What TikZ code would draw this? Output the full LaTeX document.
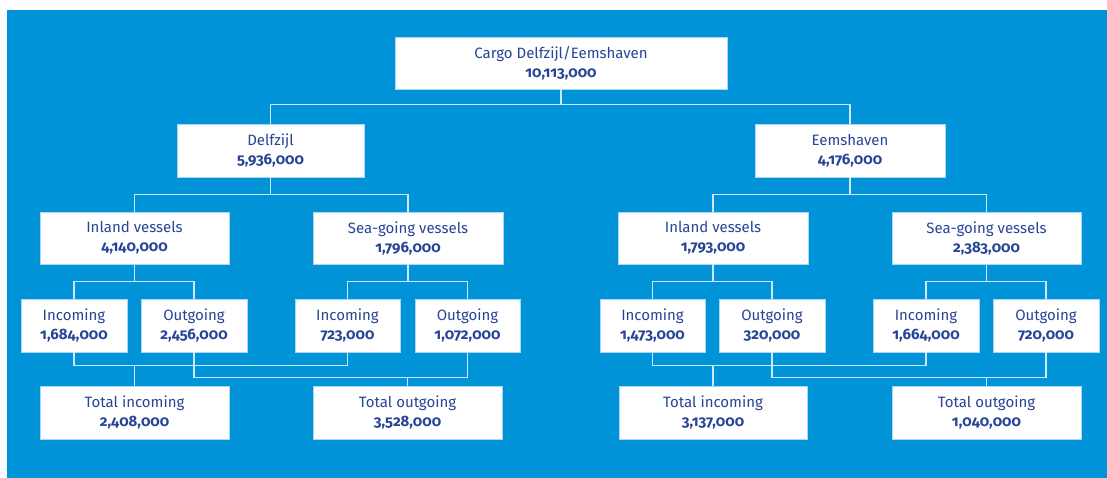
\documentclass[tikz,border=0pt]{standalone}
\usepackage{fontspec}
\setmainfont{Fira Sans}[Numbers=OldStyle]
\usetikzlibrary{calc}
\definecolor{bg}{RGB}{0,147,216}
\definecolor{txt}{RGB}{40,68,150}
\definecolor{conn}{RGB}{205,232,248}
\definecolor{edge}{RGB}{170,215,242}
\tikzset{
  box/.style={draw=edge, line width=0.8pt, fill=white, text=txt, align=center, inner sep=0pt,
    font=\fontsize{15}{19}\selectfont},
  bigbox/.style={box, minimum width=189pt, minimum height=52pt},
  smallbox/.style={box, minimum width=106pt, minimum height=53pt},
  link/.style={draw=conn, line width=1.2pt}
}
\begin{document}
\begin{tikzpicture}[x=1pt,y=-1pt]
\useasboundingbox (0,0) rectangle (1107,478);
\fill[white] (0,0) rectangle (1107,478);
\fill[bg] (7,10) rectangle (1107,478);
% level 0
\node[box, minimum width=332pt, minimum height=52pt] (top) at (561,63) {Cargo Delfzijl/Eemshaven\\\textbf{10,113,000}};
% level 1
\node[bigbox, minimum width=187pt, minimum height=53pt] (delf) at (270.5,150.5) {Delfzijl\\\textbf{5,936,000}};
\node[bigbox, minimum width=190pt, minimum height=53pt] (eems) at (850,150.5) {Eemshaven\\\textbf{4,176,000}};
% level 2
\node[bigbox] (linl) at (134.5,238) {Inland vessels\\\textbf{4,140,000}};
\node[bigbox, minimum width=190pt] (lsea) at (408,238) {Sea-going vessels\\\textbf{1,796,000}};
\node[bigbox, minimum width=190pt] (rinl) at (713,238) {Inland vessels\\\textbf{1,793,000}};
\node[bigbox] (rsea) at (986.5,238) {Sea-going vessels\\\textbf{2,383,000}};
% level 3
\node[smallbox] (li) at (74,325.5) {Incoming\\\textbf{1,684,000}};
\node[smallbox] (lo) at (194,325.5) {Outgoing\\\textbf{2,456,000}};
\node[smallbox, minimum width=105pt] (lsi) at (347.5,325.5) {Incoming\\\textbf{723,000}};
\node[smallbox, minimum width=105pt] (lso) at (467.5,325.5) {Outgoing\\\textbf{1,072,000}};
\node[smallbox, minimum width=105pt] (ri) at (652.5,325.5) {Incoming\\\textbf{1,473,000}};
\node[smallbox] (ro) at (772,325.5) {Outgoing\\\textbf{320,000}};
\node[smallbox] (rsi) at (926,325.5) {Incoming\\\textbf{1,664,000}};
\node[smallbox] (rso) at (1046,325.5) {Outgoing\\\textbf{720,000}};
% totals
\node[bigbox, minimum height=53pt] (ltin) at (134.5,412.5) {Total incoming\\\textbf{2,408,000}};
\node[bigbox, minimum height=53pt] (ltout) at (407.5,412.5) {Total outgoing\\\textbf{3,528,000}};
\node[bigbox, minimum width=188pt, minimum height=53pt] (rtin) at (713,412.5) {Total incoming\\\textbf{3,137,000}};
\node[bigbox, minimum height=53pt] (rtout) at (986.5,412.5) {Total outgoing\\\textbf{1,040,000}};
% connectors
\draw[link] (top.south) -- ++(0,16);
\draw[link] (delf.north) -- ++(0,-19) -| (eems.north);
\draw[link] (delf.south) -- ++(0,18);
\draw[link] (linl.north) -- ++(0,-17) -| (lsea.north);
\draw[link] (eems.south) -- ++(0,18);
\draw[link] (rinl.north) -- ++(0,-17) -| (rsea.north);
\draw[link] (linl.south) -- ++(0,18);
\draw[link] (li.north) -- ++(0,-17) -| (lo.north);
\draw[link] (lsea.south) -- ++(0,18);
\draw[link] (lsi.north) -- ++(0,-17) -| (lso.north);
\draw[link] (rinl.south) -- ++(0,18);
\draw[link] (ri.north) -- ++(0,-17) -| (ro.north);
\draw[link] (rsea.south) -- ++(0,18);
\draw[link] (rsi.north) -- ++(0,-17) -| (rso.north);
% to totals (left)
\draw[link] (li.south) -- ++(0,13) -| (lsi.south);
\draw[link] (ltin.north) -- ++(0,-21);
\draw[link] (lo.south) -- ++(0,25) -| (lso.south);
\draw[link] (ltout.north) -- ++(0,-9);
% to totals (right)
\draw[link] (ri.south) -- ++(0,13) -| (rsi.south);
\draw[link] (rtin.north) -- ++(0,-21);
\draw[link] (ro.south) -- ++(0,25) -| (rso.south);
\draw[link] (rtout.north) -- ++(0,-9);
\end{tikzpicture}
\end{document}
